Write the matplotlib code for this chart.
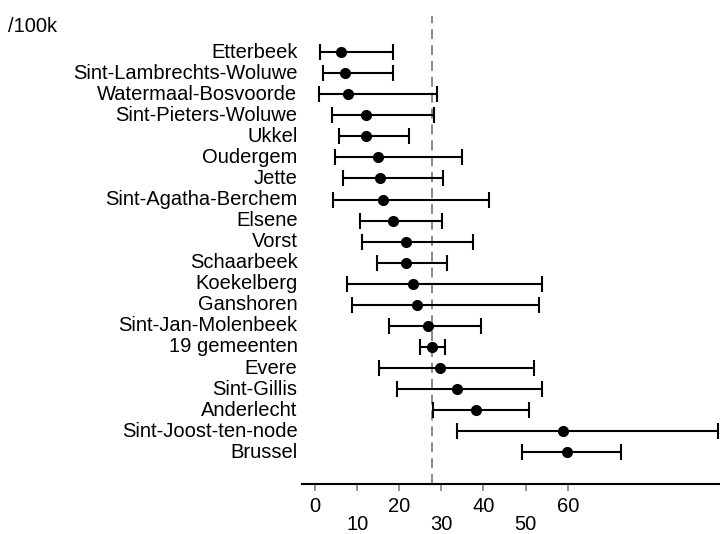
import matplotlib
matplotlib.use("Agg")
import matplotlib.pyplot as plt
import matplotlib.transforms as mtrans
import numpy as np

plt.rcParams['font.family'] = ['Liberation Sans', 'DejaVu Sans']

names = ["Etterbeek", "Sint-Lambrechts-Woluwe", "Watermaal-Bosvoorde",
         "Sint-Pieters-Woluwe", "Ukkel", "Oudergem", "Jette",
         "Sint-Agatha-Berchem", "Elsene", "Vorst", "Schaarbeek",
         "Koekelberg", "Ganshoren", "Sint-Jan-Molenbeek", "19 gemeenten",
         "Evere", "Sint-Gillis", "Anderlecht", "Sint-Joost-ten-node", "Brussel"]
values = [6.2, 7.1, 7.9, 12.1, 12.2, 15.0, 15.4, 16.2, 18.4, 21.5, 21.7,
          23.2, 24.3, 26.8, 27.8, 29.6, 33.8, 38.2, 59.0, 59.9]
lower = [1.2, 1.9, 0.95, 4.0, 5.8, 4.8, 6.6, 4.3, 10.6, 11.1, 14.6,
         7.5, 8.9, 17.6, 24.9, 15.3, 19.5, 27.9, 33.7, 49.1]
upper = [18.4, 18.4, 29.0, 28.3, 22.3, 35.0, 30.4, 41.4, 30.1, 37.5, 31.3,
         54.0, 53.1, 39.4, 30.8, 51.9, 53.9, 50.8, 95.8, 72.6]
reference = 27.8
major_ticks = [0, 20, 40, 60]
minor_ticks = [10, 30, 50]
unit_label = "/100k"

FS = 14.5
W, H = 720, 534
fig = plt.figure(figsize=(W / 100, H / 100), dpi=100)
ax = fig.add_axes([302 / W, 1 - 483.5 / H, (721 - 302) / W, (483.5 - 16) / H])

y = np.arange(len(names))
v = np.array(values)
err = np.vstack([v - np.array(lower), np.array(upper) - v])

ax.axvline(reference, color='#808080', lw=1.3, dashes=(5.5, 3.3), zorder=1)
ax.errorbar(v, y, xerr=err, fmt='o', color='black', ecolor='black',
            elinewidth=1.5, capsize=6, capthick=1.5, markersize=7, zorder=3)

ax.set_xlim(-3.09, 96.4)
ax.set_ylim(20.48, -1.71)

for s in ['top', 'right', 'left']:
    ax.spines[s].set_visible(False)
ax.spines['bottom'].set_linewidth(1.5)

ax.set_yticks([])
label_tr = mtrans.blended_transform_factory(fig.transFigure, ax.transData)
for yi, n in zip(y, names):
    ax.text(297.5 / W, yi, n, transform=label_tr, ha='right',
            va='center', fontsize=FS)

ax.set_xticks(major_ticks)
ax.set_xticklabels([str(t) for t in major_ticks])
ax.set_xticks(minor_ticks, minor=True)
ax.set_xticklabels([str(t) for t in minor_ticks], minor=True)
ax.tick_params(axis='x', which='major', length=5, width=1.2, color='#808080',
               pad=5, labelsize=FS)
ax.tick_params(axis='x', which='minor', length=5, width=1.2, color='#808080',
               pad=18, labelsize=FS)

fig.text(8 / W, 1 - 27 / H, unit_label, ha='left', va='center', fontsize=FS)

fig.savefig("out.png", dpi=100)
